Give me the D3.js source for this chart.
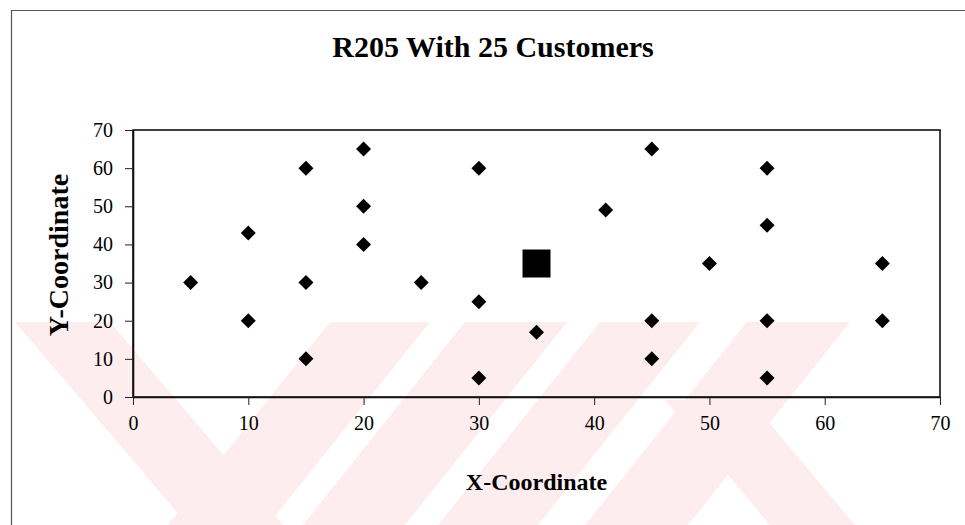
<!DOCTYPE html>
<html>
<head>
<meta charset="utf-8">
<script src="https://cdn.jsdelivr.net/npm/d3@7"></script>
<style>
  html, body { margin: 0; padding: 0; background: #fff; }
  svg { display: block; }
</style>
</head>
<body>
<svg id="chart" width="965" height="525"></svg>
<script>
// ---- data ----
const titleText = "R205 With 25 Customers";
const xAxisTitle = "X-Coordinate";
const yAxisTitle = "Y-Coordinate";
const custX = [5, 10, 10, 15, 15, 15, 20, 20, 20, 25, 30, 30, 30, 35, 41, 45, 45, 45, 50, 55, 55, 55, 55, 65, 65];
const custY = [30, 43, 20, 60, 30, 10, 65, 50, 40, 30, 60, 25, 5, 17, 49, 65, 20, 10, 35, 60, 45, 20, 5, 35, 20];
const depotX = [35];
const depotY = [35];
const xTicks = [0, 10, 20, 30, 40, 50, 60, 70];
const yTicks = [0, 10, 20, 30, 40, 50, 60, 70];

// ---- layout ----
const W = 965, H = 525;
const plot = { left: 133, right: 940, top: 130, bottom: 397 };
const serif = "'Liberation Serif', 'Times New Roman', Times, serif";

const svg = d3.select("#chart");

// background watermark (light pink diagonal stripes in lower part of the scan)
const wm = svg.append("g").attr("class", "watermark");
svg.append("clipPath").attr("id", "wmclip")
  .append("rect").attr("x", 12).attr("y", 322).attr("width", W).attr("height", H - 322);
wm.attr("clip-path", "url(#wmclip)");
const stripes = [
  // [topY, topX0, topX1, bottomY, bottomX0, bottomX1]
  [322, 15, 110, 525, 188, 283],
  [322, 330, 430, 525, 168, 268],
  [322, 465, 567, 525, 303, 405],
  [322, 600, 700, 525, 438, 538],
  [322, 747, 850, 525, 585, 688],
  [400, 665, 750, 525, 770, 855]
];
wm.selectAll("path").data(stripes).enter().append("path")
  .attr("d", s => `M${s[1]},${s[0]}L${s[2]},${s[0]}L${s[5]},${s[3]}L${s[4]},${s[3]}Z`)
  .attr("fill", "#fdedef");

// outer chart border (extends beyond the right/bottom edges)
svg.append("path")
  .attr("d", `M11.5,${H}L11.5,10.5L${W},10.5`)
  .attr("fill", "none").attr("stroke", "#555").attr("stroke-width", 1.2);

// scales
const x = d3.scaleLinear().domain([0, 70]).range([plot.left, plot.right]);
const y = d3.scaleLinear().domain([0, 70]).range([plot.bottom, plot.top]);

// plot frame
svg.append("rect")
  .attr("x", plot.left).attr("y", plot.top)
  .attr("width", plot.right - plot.left).attr("height", plot.bottom - plot.top)
  .attr("fill", "none").attr("stroke", "#111").attr("stroke-width", 1.6);

// axes
const gx = svg.append("g")
  .attr("transform", `translate(0,${plot.bottom})`)
  .call(d3.axisBottom(x).tickValues(xTicks).tickFormat(d3.format("d")).tickSize(8).tickPadding(11).tickSizeOuter(0));
const gy = svg.append("g")
  .attr("transform", `translate(${plot.left},0)`)
  .call(d3.axisLeft(y).tickValues(yTicks).tickFormat(d3.format("d")).tickSize(8).tickPadding(12).tickSizeOuter(0));
[gx, gy].forEach(g => {
  g.select(".domain").attr("stroke", "#111").attr("stroke-width", 1.6);
  g.selectAll(".tick line").attr("stroke", "#222").attr("stroke-width", 1);
  g.selectAll(".tick text").attr("fill", "#000")
    .style("font-family", serif).style("font-size", "20px");
});

// customers (diamonds)
const diamond = d3.symbol().type(d3.symbolSquare).size(112);
svg.append("g").selectAll("path").data(custX.map((v, i) => [v, custY[i]]))
  .enter().append("path")
  .attr("d", diamond)
  .attr("transform", d => `translate(${x(d[0])},${y(d[1])}) rotate(45)`)
  .attr("fill", "#000");

// depot (large square)
const depot = d3.symbol().type(d3.symbolSquare).size(28 * 28);
svg.append("g").selectAll("path").data(depotX.map((v, i) => [v, depotY[i]]))
  .enter().append("path")
  .attr("d", depot)
  .attr("transform", d => `translate(${x(d[0])},${y(d[1])})`)
  .attr("fill", "#000");

// title
svg.append("text")
  .attr("x", 493).attr("y", 57)
  .attr("text-anchor", "middle")
  .style("font-family", serif).style("font-weight", "bold").style("font-size", "30px")
  .attr("fill", "#000")
  .text(titleText);

// axis titles
svg.append("text")
  .attr("x", (plot.left + plot.right) / 2).attr("y", 490)
  .attr("text-anchor", "middle")
  .style("font-family", serif).style("font-weight", "bold").style("font-size", "24px")
  .attr("fill", "#000")
  .text(xAxisTitle);

svg.append("text")
  .attr("transform", "translate(68,255) rotate(-90)")
  .attr("text-anchor", "middle")
  .style("font-family", serif).style("font-weight", "bold").style("font-size", "28px")
  .attr("fill", "#000")
  .text(yAxisTitle);
</script>
</body>
</html>
